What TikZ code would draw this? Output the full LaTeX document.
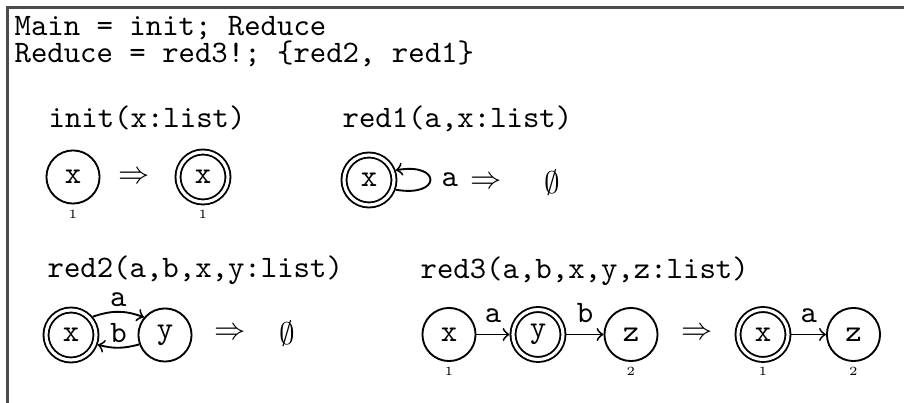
\documentclass[tikz,border=0pt]{standalone}
\begin{document}
\begin{tikzpicture}[x=0.32pt,y=0.32pt]
\tikzset{
  st/.style={circle, draw, line width=0.6pt, minimum size=17pt, inner sep=0pt, font=\ttfamily},
  acc/.style={circle, draw, line width=0.6pt, double, double distance=1pt, minimum size=16pt, inner sep=0pt, outer sep=1.1pt, font=\ttfamily},
  txt/.style={anchor=base west, inner sep=0pt, font=\ttfamily\frenchspacing},
  num/.style={font=\fontsize{4}{5}\selectfont, inner sep=0pt},
  edge/.style={->, line width=0.6pt},
  elab/.style={font=\ttfamily},
  sym/.style={inner sep=0pt},
  frame/.style={draw=black!70, line width=0.7pt}
}
\useasboundingbox (0,0) rectangle (904,-403);
\draw[frame] (920,-7.5) -- (7.5,-7.5) -- (7.5,-420);
% program text
\node[txt] (l1) at (14,-36) {Main = init; Reduce};
\node[txt] (l2) at (14,-63) {Reduce = red3!; \{red2, red1\}};
% titles
\node[txt] (t1) at (48,-128) {init(x:list)};
\node[txt] (t2) at (342,-128) {red1(a,x:list)};
\node[txt] (t3) at (47,-278) {red2(a,b,x,y:list)};
\node[txt] (t4) at (420,-279) {red3(a,b,x,y,z:list)};
% init
\node[st] (i1) at (73,-177) {x};
\node[num] (i1n) at (73,-214) {1};
\node[sym] (i1ar) at (134,-178) {$\Rightarrow$};
\node[acc] (i2) at (203,-177) {x};
\node[num] (i2n) at (203,-214) {1};
% red1
\node[acc] (r1x) at (369,-180) {x};
\draw[edge] (r1x.-20) .. controls +(46,-8) and +(46,8) .. (r1x.20) node[pos=0.5, right, elab] (r1a) {a};
\node[sym] (r1ar) at (486,-183) {$\Rightarrow$};
\node[sym] (r1e) at (552,-183) {$\emptyset$};
% red2
\node[acc] (r2x) at (71,-335) {x};
\node[st] (r2y) at (165,-335) {y};
\draw[edge] (r2x.40) to[bend left=20] node[above, inner sep=1.3pt, elab] (r2a) {a} (r2y.140);
\draw[edge] (r2y.-160) to[bend left=15] node[above, inner sep=1.3pt, elab] (r2b) {b} (r2x.-20);
\node[sym] (r2ar) at (230,-334) {$\Rightarrow$};
\node[sym] (r2e) at (287,-334) {$\emptyset$};
% red3
\node[st] (r3x) at (449,-334.5) {x};
\node[acc] (r3y) at (538,-334.5) {y};
\node[st] (r3z) at (631,-334.5) {z};
\node[num] (r3xn) at (449,-371) {1};
\node[num] (r3zn) at (631,-371) {2};
\draw[edge] (r3x) -- node[above, elab] (r3a) {a} (r3y);
\draw[edge] (r3y) -- node[above, elab] (r3b) {b} (r3z);
\node[sym] (r3ar) at (697,-334) {$\Rightarrow$};
\node[acc] (r3x2) at (763,-334.5) {x};
\node[st] (r3z2) at (853.5,-334.5) {z};
\node[num] (r3x2n) at (763,-371) {1};
\node[num] (r3z2n) at (853.5,-371) {2};
\draw[edge] (r3x2) -- node[above, elab] (r3a2) {a} (r3z2);
\end{tikzpicture}
\end{document}
